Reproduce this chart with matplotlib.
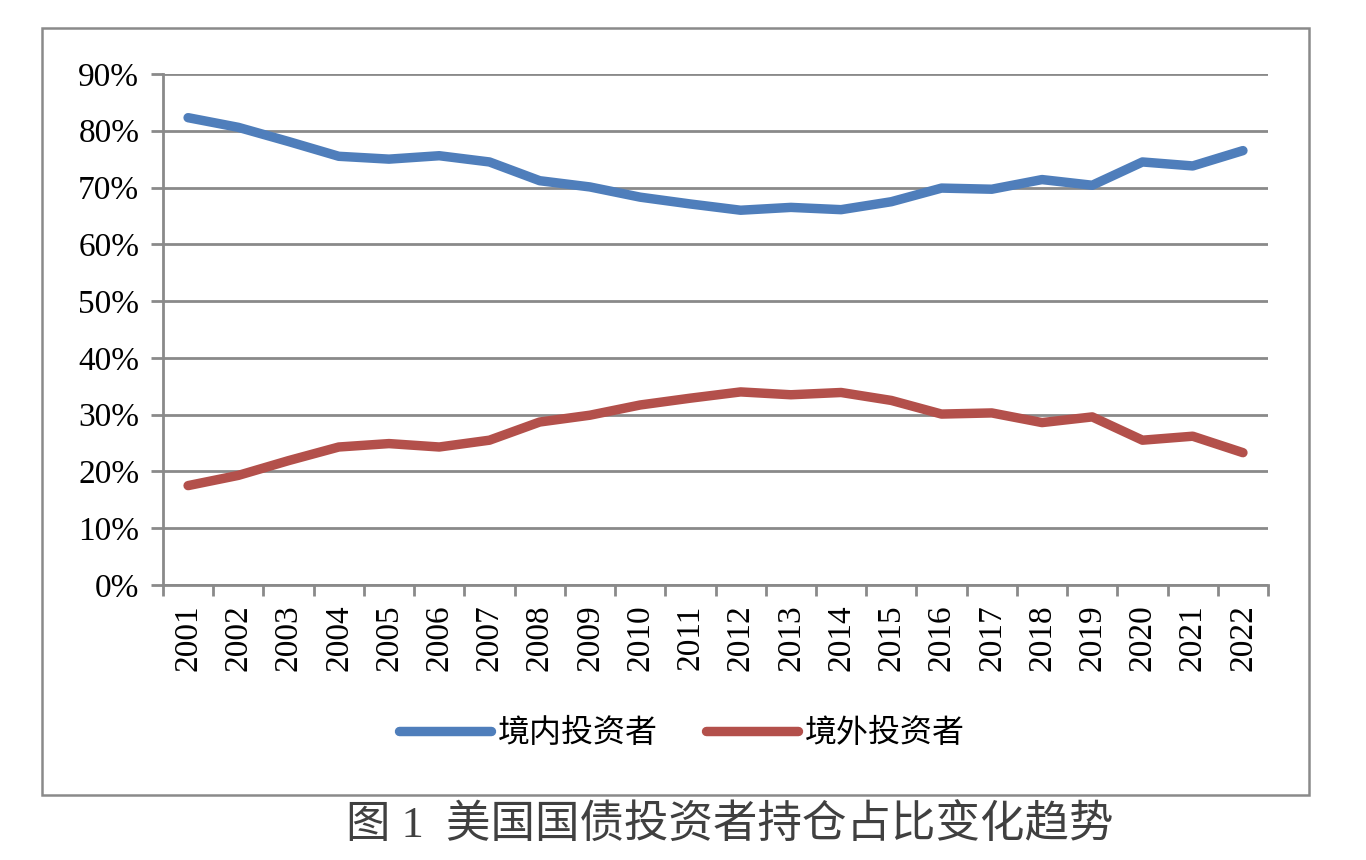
import matplotlib.pyplot as plt
from matplotlib.patches import Rectangle
from matplotlib.ticker import FixedLocator, NullFormatter

plt.rcParams['font.family'] = ['Liberation Serif', 'Noto Sans CJK SC']

# 数据
years = [str(y) for y in range(2001, 2023)]
domestic = [82.3, 80.6, 78.1, 75.5, 75.0, 75.6, 74.5, 71.2, 70.1, 68.3, 67.1, 66.0,
            66.5, 66.1, 67.5, 69.9, 69.7, 71.4, 70.4, 74.5, 73.8, 76.5]
foreign = [17.5, 19.3, 21.9, 24.3, 24.9, 24.3, 25.5, 28.7, 29.9, 31.7, 32.9, 34.0,
           33.5, 33.9, 32.5, 30.1, 30.3, 28.6, 29.6, 25.5, 26.2, 23.3]
yticks = [0, 10, 20, 30, 40, 50, 60, 70, 80, 90]

blue = '#4F7EBB'
red = '#B3504B'
grid_c = '#8A8A8A'

fig = plt.figure(figsize=(13.66, 8.6), dpi=100)
ax = fig.add_axes([0.1193, 0.3198, 0.8090, 0.5942])

x = list(range(len(years)))
ax.plot(x, domestic, color=blue, lw=6.8, solid_capstyle='round', solid_joinstyle='round', label='境内投资者')
ax.plot(x, foreign, color=red, lw=6.8, solid_capstyle='round', solid_joinstyle='round', label='境外投资者')

ax.set_xlim(-0.5, len(years) - 0.5)
ax.set_ylim(0, 90)
ax.set_yticks(yticks)
ax.set_yticklabels([f'{v}%' for v in yticks], fontsize=24)
ax.yaxis.grid(True, color=grid_c, lw=2.0)
ax.set_axisbelow(True)

# 年份标签放在类别中间，刻度线放在类别边界
ax.set_xticks(x)
ax.set_xticklabels(years, rotation=90, fontsize=24)
ax.tick_params(axis='x', which='major', length=0, pad=14)
ax.xaxis.set_minor_locator(FixedLocator([i - 0.5 for i in range(len(years) + 1)]))
ax.xaxis.set_minor_formatter(NullFormatter())
ax.tick_params(axis='x', which='minor', length=8, width=2.0, color=grid_c)
ax.tick_params(axis='y', length=9, width=2.0, color=grid_c, pad=8)

for s in ['top', 'right']:
    ax.spines[s].set_visible(False)
for s in ['left', 'bottom']:
    ax.spines[s].set_color(grid_c)
    ax.spines[s].set_linewidth(2.0)

leg = fig.legend(loc='center', bbox_to_anchor=(0.499, 0.146), ncol=2, frameon=False,
                 fontsize=23, handlelength=2.9, handletextpad=0.2, columnspacing=1.5)

# 外框
fig.patches.append(Rectangle((0.0307, 0.0756), 0.9276, 0.8918, transform=fig.transFigure,
                             fill=False, edgecolor=grid_c, lw=1.8))

fig.text(0.534, 0.040, '图 1  美国国债投资者持仓占比变化趋势', ha='center', va='center',
         fontsize=32, color='#404040')

fig.savefig('out.png', dpi=100)
